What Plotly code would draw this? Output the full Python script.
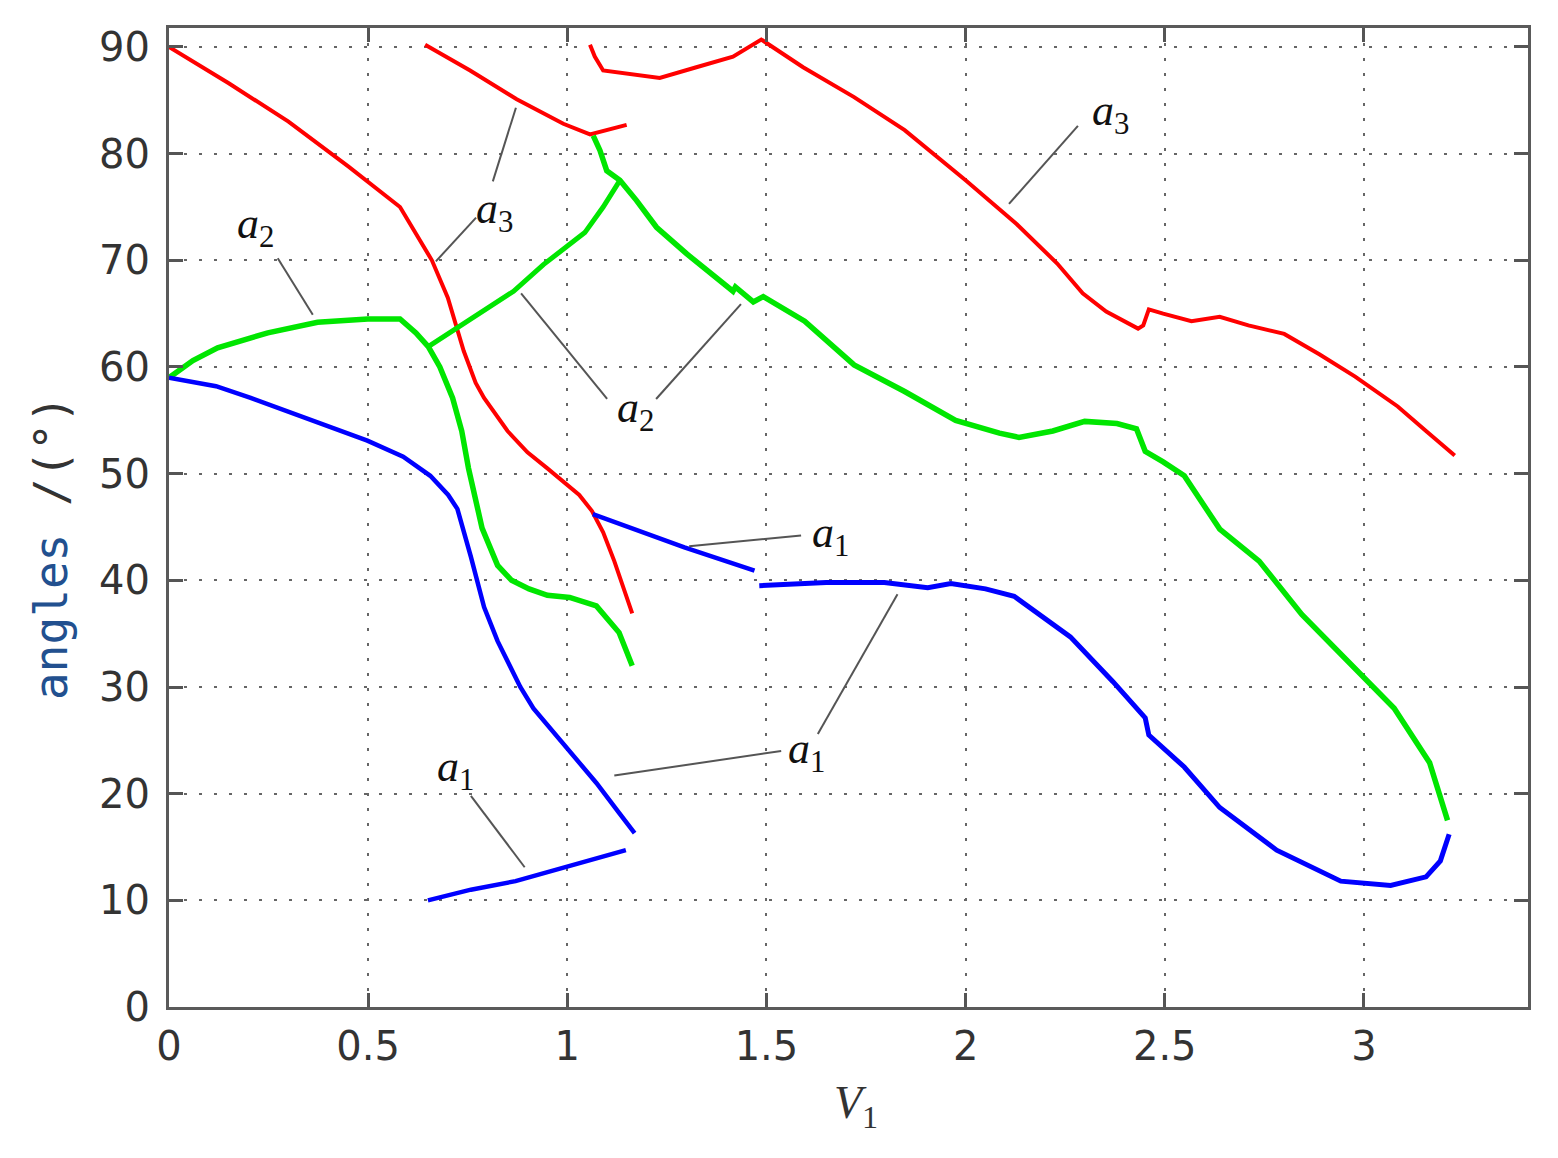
import plotly.graph_objects as go

# ---- data ----
red1_x = [0, 0.15, 0.3, 0.45, 0.58, 0.62, 0.66, 0.7, 0.74, 0.77, 0.791, 0.85, 0.9, 0.95, 0.983, 1.03, 1.062, 1.09, 1.118, 1.14, 1.163]
red1_y = [90, 86.6, 83, 78.8, 75, 72.5, 70, 66.5, 61.5, 58.5, 57.1, 54, 52, 50.5, 49.5, 48, 46.5, 44.5, 41.8, 39.5, 36.9]

red2_x = [0.643, 0.756, 0.873, 0.99, 1.057, 1.107, 1.149]
red2_y = [90.2, 87.8, 85.1, 82.8, 81.8, 82.3, 82.7]

red3_x = [1.057, 1.069, 1.09, 1.174, 1.232, 1.324, 1.416, 1.487, 1.592, 1.72, 1.847, 2.0, 2.128, 2.23, 2.294,
          2.353, 2.433, 2.446, 2.46, 2.496, 2.567, 2.638, 2.71, 2.80, 2.888, 2.978, 3.085, 3.156, 3.228]
red3_y = [90.2, 89.1, 87.8, 87.4, 87.1, 88.1, 89.1, 90.7, 88.1, 85.3, 82.2, 77.5, 73.4, 69.7, 66.9,
          65.2, 63.6, 63.9, 65.4, 65.0, 64.3, 64.7, 63.9, 63.1, 61.2, 59.1, 56.3, 54.0, 51.7]

green1_x = [0, 0.06, 0.122, 0.248, 0.373, 0.499, 0.58, 0.62, 0.651, 0.68, 0.712, 0.735, 0.752, 0.786, 0.825,
            0.86, 0.904, 0.95, 1.006, 1.073, 1.13, 1.163]
green1_y = [59, 60.6, 61.8, 63.2, 64.2, 64.5, 64.5, 63.2, 61.9, 60, 57.1, 54.0, 50.5, 44.9, 41.4,
            40, 39.2, 38.6, 38.4, 37.6, 35.1, 32.0]

green2_x = [0.651, 0.727, 0.865, 0.94, 1.044, 1.09, 1.132]
green2_y = [61.9, 63.7, 67.1, 69.6, 72.6, 75, 77.5]

green3_x = [1.065, 1.082, 1.099, 1.132, 1.174, 1.224, 1.3, 1.416, 1.422, 1.467, 1.492, 1.596, 1.72, 1.847, 1.975,
            2.085, 2.134, 2.219, 2.299, 2.38, 2.429, 2.451, 2.496, 2.549, 2.638, 2.737, 2.844, 2.978, 3.076, 3.165, 3.21]
green3_y = [81.7, 80.3, 78.4, 77.5, 75.6, 73.1, 70.6, 67.1, 67.5, 66.1, 66.6, 64.3, 60.2, 57.7, 55.0,
            53.8, 53.4, 54.0, 54.9, 54.7, 54.2, 52.1, 51.1, 49.8, 44.8, 41.8, 36.8, 31.8, 28.0, 22.9, 17.5]

blue1_x = [0, 0.118, 0.205, 0.33, 0.498, 0.588, 0.656, 0.701, 0.724, 0.758, 0.791, 0.825, 0.882, 0.915, 0.994, 1.073, 1.13, 1.169]
blue1_y = [59, 58.2, 57.1, 55.4, 53.1, 51.6, 49.8, 48, 46.7, 42.2, 37.5, 34.3, 30, 28, 24.5, 21, 18.2, 16.3]

blue2_x = [0.65, 0.758, 0.87, 0.994, 1.147]
blue2_y = [10, 11, 11.8, 13.1, 14.7]

blue3_x = [1.064, 1.294, 1.47]
blue3_y = [46.2, 43.1, 40.9]

blue4_x = [1.482, 1.65, 1.796, 1.905, 1.963, 2.05, 2.122, 2.215, 2.263, 2.37, 2.451, 2.46, 2.549, 2.638,
           2.781, 2.942, 3.067, 3.156, 3.192, 3.214]
blue4_y = [39.5, 39.8, 39.8, 39.3, 39.7, 39.2, 38.5, 35.9, 34.7, 30.5, 27.1, 25.5, 22.5, 18.7,
           14.7, 11.8, 11.4, 12.2, 13.7, 16.2]

# labels (alpha_i) and leader lines
label_sub = ["3", "2", "2", "3", "1", "1", "1"]
label_x = [0.816, 0.218, 1.172, 2.365, 1.662, 1.6, 0.72]
label_y = [74.6, 73.2, 55.9, 83.8, 44.2, 24.0, 22.3]

leader_x0 = [0.871, 0.771, 0.273, 0.884, 1.223, 2.282, 1.587, 1.537, 1.629, 0.758]
leader_y0 = [84.3, 74.0, 70.2, 66.9, 57.0, 82.6, 44.2, 24.0, 25.6, 19.8]
leader_x1 = [0.813, 0.670, 0.361, 1.100, 1.436, 2.109, 1.306, 1.118, 1.829, 0.893]
leader_y1 = [77.4, 69.9, 64.9, 57.0, 65.9, 75.3, 43.2, 21.7, 38.7, 13.1]

x_ticks = [0, 0.5, 1, 1.5, 2, 2.5, 3]
x_ticklabels = ["0", "0.5", "1", "1.5", "2", "2.5", "3"]
y_ticks = [0, 10, 20, 30, 40, 50, 60, 70, 80, 90]

RED, GREEN, BLUE = "#ff0000", "#00e600", "#0000ff"

fig = go.Figure()

series = [
    (red1_x, red1_y, RED, 4), (red2_x, red2_y, RED, 4), (red3_x, red3_y, RED, 4),
    (green1_x, green1_y, GREEN, 5.5), (green2_x, green2_y, GREEN, 5), (green3_x, green3_y, GREEN, 5.5),
    (blue1_x, blue1_y, BLUE, 4.5), (blue2_x, blue2_y, BLUE, 4.5), (blue3_x, blue3_y, BLUE, 4.5),
    (blue4_x, blue4_y, BLUE, 5),
]
for xs, ys, col, w in series:
    fig.add_trace(go.Scatter(x=xs, y=ys, mode="lines", line=dict(color=col, width=w),
                             showlegend=False, hoverinfo="skip"))

for x0, y0, x1, y1 in zip(leader_x0, leader_y0, leader_x1, leader_y1):
    fig.add_trace(go.Scatter(x=[x0, x1], y=[y0, y1], mode="lines",
                             line=dict(color="#555555", width=2), showlegend=False, hoverinfo="skip"))

for s, lx, ly in zip(label_sub, label_x, label_y):
    fig.add_annotation(x=lx, y=ly, xref="x", yref="y", text=f"<i>a</i><sub>{s}</sub>",
                       showarrow=False, xanchor="center", yanchor="middle",
                       font=dict(family="Liberation Serif", size=44, color="#111111"))

# axis titles
fig.add_annotation(x=0.5055, y=-0.101, xref="paper", yref="paper",
                   text="<i>V</i><sub>1</sub>", showarrow=False, xanchor="center", yanchor="middle",
                   font=dict(family="Liberation Serif", size=46, color="#333333"))
fig.add_annotation(x=-0.0868, y=0.469, xref="paper", yref="paper", textangle=-90,
                   text="<span style='color:#22508f'>angles</span> /(°)", showarrow=False,
                   xanchor="center", yanchor="middle",
                   font=dict(family="DejaVu Sans Mono", size=46, color="#333333"))

axis_common = dict(showline=True, linecolor="#5a5a5a", linewidth=3, mirror="ticks",
                   ticks="inside", ticklen=14, tickwidth=3, tickcolor="#555555",
                   showgrid=True, gridcolor="#666666", gridwidth=2, griddash="3px,12px",
                   zeroline=False,
                   tickfont=dict(family="DejaVu Sans", size=40, color="#333333"))

fig.update_xaxes(range=[0, 3.412], tickvals=x_ticks, ticktext=x_ticklabels,
                 ticklabelstandoff=2, **axis_common)
fig.update_yaxes(range=[0, 91.78], tickvals=y_ticks, ticklabelstandoff=8, **axis_common)

fig.update_layout(width=1558, height=1158, margin=dict(l=161, r=38, t=20, b=159, autoexpand=False),
                  paper_bgcolor="white", plot_bgcolor="white", showlegend=False)

fig.write_html("out.html")
